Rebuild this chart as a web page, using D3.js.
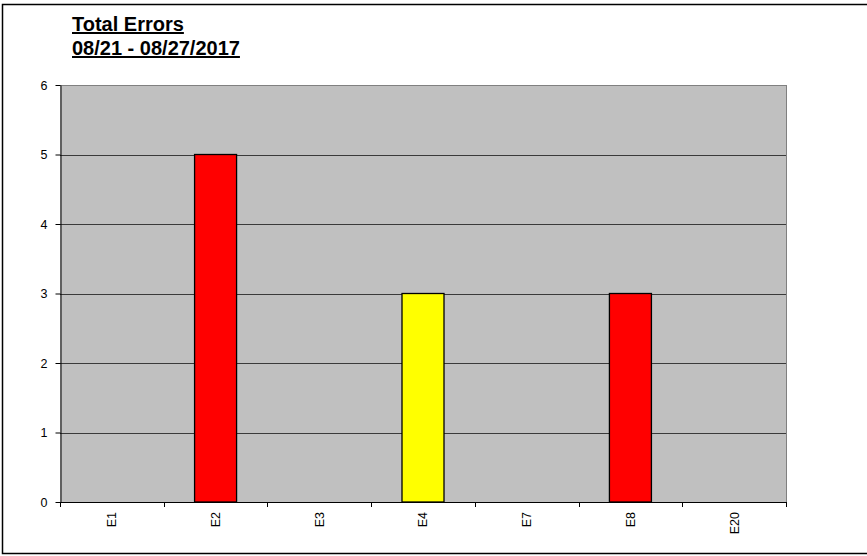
<!DOCTYPE html>
<meta charset="utf-8">
<title>Total Errors</title>
<style>

body {
  margin: 0px;
  background: #fff;
}

text {
  font-family: "Liberation Sans", Arial, sans-serif;
  fill: #000;
}

.title {
  font-size: 20px;
  font-weight: bold;
}

.tick-label {
  font-size: 12.5px;
}

</style>

<script src="https://d3js.org/d3.v7.min.js"></script>

<body>

<script>

var width = 867, height = 556;

// chart data
var categories = ["E1", "E2", "E3", "E4", "E7", "E8", "E20"];
var errors = [0, 5, 0, 3, 0, 3, 0];
var barColors = ["#ff0000", "#ff0000", "#ff0000", "#ffff00", "#ff0000", "#ff0000", "#ff0000"];
var yTicks = [0, 1, 2, 3, 4, 5, 6];
var titleLines = ["Total Errors", "08/21 - 08/27/2017"];

var plot = {left: 60, right: 786, top: 85, bottom: 502};

var svg = d3.select("body").append("svg")
    .attr("width", width)
    .attr("height", height);

// outer frame
svg.append("rect")
    .attr("x", 2.5)
    .attr("y", 4.5)
    .attr("width", 870)
    .attr("height", 549)
    .attr("fill", "none")
    .attr("stroke", "#000")
    .attr("stroke-width", 1.5);

var x = d3.scaleBand()
    .domain(categories)
    .range([plot.left, plot.right])
    .padding(0);

var y = d3.scaleLinear()
    .domain([0, 6])
    .range([plot.bottom, plot.top]);

// plot background
svg.append("rect")
    .attr("x", plot.left)
    .attr("y", plot.top)
    .attr("width", plot.right - plot.left)
    .attr("height", plot.bottom - plot.top)
    .attr("fill", "#c0c0c0");

// gridlines
svg.append("g").selectAll("line")
    .data(yTicks.filter(function(d) { return d > 0; }))
  .enter().append("line")
    .attr("x1", plot.left)
    .attr("x2", plot.right)
    .attr("y1", function(d) { return Math.round(y(d)) + 0.5; })
    .attr("y2", function(d) { return Math.round(y(d)) + 0.5; })
    .attr("stroke", function(d) { return d === 6 ? "#808080" : "#3a3a3a"; });

// right border of plot area
svg.append("line")
    .attr("x1", plot.right + 0.5).attr("x2", plot.right + 0.5)
    .attr("y1", plot.top).attr("y2", plot.bottom)
    .attr("stroke", "#808080");

// bars
var barFrac = 0.405;
svg.append("g").selectAll("rect")
    .data(categories)
  .enter().append("rect")
    .filter(function(d, i) { return errors[i] > 0; })
    .attr("x", function(d) { return x(d) + x.bandwidth() * (1 - barFrac) / 2; })
    .attr("width", x.bandwidth() * barFrac)
    .attr("y", function(d) { return y(errors[categories.indexOf(d)]); })
    .attr("height", function(d) { return plot.bottom - y(errors[categories.indexOf(d)]); })
    .attr("fill", function(d) { return barColors[categories.indexOf(d)]; })
    .attr("stroke", "#000")
    .attr("stroke-width", 1.3);

// y axis
var yAxis = svg.append("g")
    .attr("transform", "translate(" + (plot.left + 0.5) + ",0)")
    .call(d3.axisLeft(y).tickValues(yTicks).tickFormat(d3.format("d"))
      .tickSize(5).tickSizeOuter(0).tickPadding(8));

yAxis.attr("font-size", null).attr("font-family", null);
yAxis.select(".domain").attr("stroke", "#000");
yAxis.selectAll(".tick line").attr("stroke", "#000");
yAxis.selectAll(".tick text")
    .attr("class", "tick-label");

// x axis line and boundary ticks
var xAxis = svg.append("g");
xAxis.append("line")
    .attr("x1", plot.left)
    .attr("x2", plot.right + 1)
    .attr("y1", plot.bottom + 0.5)
    .attr("y2", plot.bottom + 0.5)
    .attr("stroke", "#000");

var bounds = categories.map(function(d) { return x(d); }).concat([plot.right]);
xAxis.selectAll("line.xtick")
    .data(bounds)
  .enter().append("line")
    .attr("class", "xtick")
    .attr("x1", function(d) { return Math.round(d) + 0.5; })
    .attr("x2", function(d) { return Math.round(d) + 0.5; })
    .attr("y1", plot.bottom)
    .attr("y2", plot.bottom + 5)
    .attr("stroke", "#000");

xAxis.selectAll("text")
    .data(categories)
  .enter().append("text")
    .attr("class", "tick-label")
    .attr("transform", function(d) {
      return "translate(" + (x(d) + x.bandwidth() / 2) + "," + (plot.bottom + 10) + ") rotate(-90)";
    })
    .attr("text-anchor", "end")
    .attr("dy", "0.35em")
    .text(function(d) { return d; });

// title
var title = svg.append("g");
title.selectAll("text")
    .data(titleLines)
  .enter().append("text")
    .attr("class", "title")
    .attr("x", 72)
    .attr("y", function(d, i) { return 31 + i * 24; })
    .attr("text-decoration", "underline")
    .text(function(d) { return d; });

</script>
